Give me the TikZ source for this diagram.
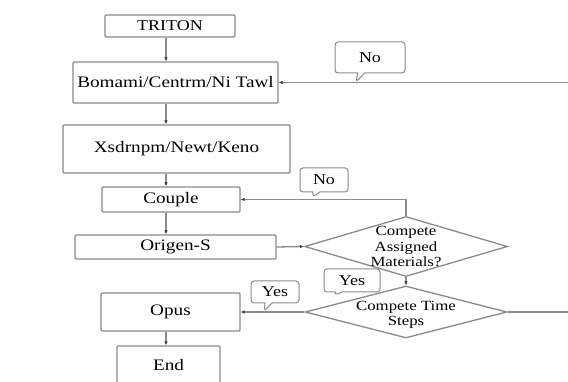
\documentclass[tikz,border=0pt]{standalone}
\usepackage{fontspec}
\setmainfont[FakeStretch=1.2]{Liberation Serif}
\usetikzlibrary{shapes.geometric, shapes.callouts, arrows.meta}
\definecolor{edgegray}{HTML}{8A8A8A}
\definecolor{tipdark}{HTML}{3A3A3A}

\begin{document}
\begin{tikzpicture}[x=1pt, y=-1pt,
  box/.style={draw=edgegray, line width=1.3pt, rounded corners=1pt, inner sep=0pt, font=\fontsize{16}{18}\selectfont},
  decision/.style={draw=edgegray, line width=1.3pt, diamond, inner sep=0pt},
  dtext/.style={align=center, inner sep=0pt, font=\fontsize{14}{15.5}\selectfont},
  tag/.style={draw=edgegray, line width=1pt, rectangle callout, rounded corners=3pt, inner sep=0pt, font=\fontsize{15}{17}\selectfont},
  link/.style={draw=edgegray, line width=1.3pt, -{Latex[length=4pt, width=3.5pt, color=tipdark]}},
  plain/.style={draw=edgegray, line width=1.3pt}]

\useasboundingbox (0,0) rectangle (568,382);

% Column of process boxes
\coordinate (spine) at (166,0);
\node[box, minimum width=130pt, minimum height=22pt, font=\fontsize{15}{17}\selectfont] (triton) at (170,26) {TRITON};
\node[box, minimum width=205pt, minimum height=41pt] (bomami) at (175.5,82.5) {Bomami/Centrm/Ni Tawl};
\node[box, minimum width=227pt, minimum height=48pt] (xsdrnpm) at (176.5,149) {Xsdrnpm/Newt/Keno};
\node[box, minimum width=138pt, minimum height=25pt] (couple) at (171,199.5) {Couple};
\node[box, minimum width=201pt, minimum height=24pt] (origen) at (175.5,247) {Origen-S};
\node[box, minimum width=139pt, minimum height=38pt] (opus) at (170.5,312) {Opus};
\node[box, minimum width=103pt, minimum height=38pt] (end) at (168.5,365) {End};

% Decisions (text runs over the edges, so it sits in a label)
\node[decision, minimum width=203pt, minimum height=60pt,
  label={[dtext]center:{Compete\\Assigned\\Materials?}}] (matdone) at (406,246.5) {};
\node[decision, minimum width=202pt, minimum height=52pt,
  label={[dtext, yshift=-3pt]center:{Compete Time\\Steps}}] (stepdone) at (406,312) {};

% Main flow
\draw[link] (triton.south -| spine) -- (bomami.north -| spine);
\draw[link] (bomami.south -| spine) -- (xsdrnpm.north -| spine);
\draw[link] (xsdrnpm.south -| spine) -- (couple.north -| spine);
\draw[link] (couple.south -| spine) -- (origen.north -| spine);
\draw[link] (opus.south -| spine) -- (end.north -| spine);
\draw[link] (origen.east) -- (matdone.west);
\draw[link] (matdone.south) -- (stepdone.north);
\draw[link] (stepdone.west) -- (opus.east);

% Loops back
\draw[link] (matdone.north) |- (couple.east);
\coordinate (loopout) at (568,312);
\coordinate (loopin) at (568,82.5);
\draw[plain] (stepdone.east) -- (loopout);
\draw[link] (loopin) -- (bomami.east);

% Labels
\node[tag, minimum width=70pt, minimum height=31pt, callout absolute pointer={(356,82)}] (notop) at (370,57.5) {No};
\node[tag, minimum width=48pt, minimum height=24pt, callout absolute pointer={(313,197)}] (nomid) at (324,180) {No};
\node[tag, minimum width=56pt, minimum height=23pt, callout absolute pointer={(335,295)}] (yesmid) at (352,280.5) {Yes};
\node[tag, minimum width=48pt, minimum height=22pt, callout absolute pointer={(264,311)}] (yeslow) at (275,292) {Yes};

\end{tikzpicture}
\end{document}
